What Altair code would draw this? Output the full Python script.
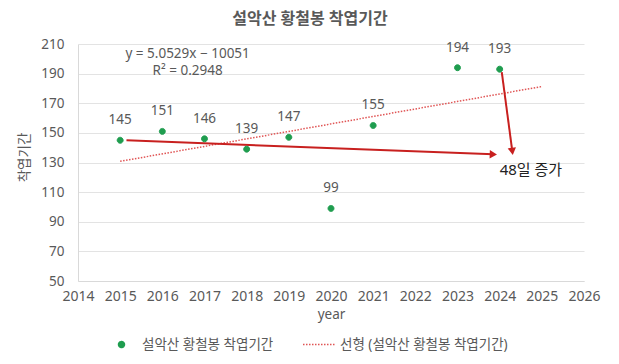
import altair as alt
import pandas as pd

# ---- data ----
years = [2015, 2016, 2017, 2018, 2019, 2020, 2021, 2023, 2024]
days = [145, 151, 146, 139, 147, 99, 155, 194, 193]
series_names = ["설악산 황철봉 착엽기간", "선형 (설악산 황철봉 착엽기간)"]
x_ticks = list(range(2014, 2027))
y_ticks = list(range(50, 211, 20))

eq_lines = ["y = 5.0529x − 10051", "R² = 0.2948"]
eq_x = [2016.6, 2016.6]
eq_y = [203.0, 191.5]

arrow_x = [2015.15, 2024.05]
arrow_y = [145.0, 191.0]
arrow_x2 = [2023.85, 2024.3]
arrow_y2 = [135.5, 137.5]
arrow_angle = [2, 352]
arrow_shape = ["triangle-right", "triangle-down"]

note_text = ["48일 증가"]
note_x = [2024.0]
note_y = [125.0]

FONT = "Noto Sans, Noto Sans CJK KR"
GRAY = "#595959"
GREEN = "#1f9d4f"
TREND = "#e05555"
ARROW = "#c8201f"
# small dot drawn inside a wide symbol box (unit coords scaled by sqrt(size)/2)
DOT = "M0.18,0A0.18,0.18,0,1,1,-0.18,0A0.18,0.18,0,1,1,0.18,0Z"
SYM_SIZE = 1089

pts = pd.DataFrame({"year": years, "days": days, "series": series_names[0]})
eq = pd.DataFrame({"year": eq_x, "days": eq_y, "t": eq_lines})
arrows = pd.DataFrame({"year": arrow_x, "days": arrow_y, "year2": arrow_x2, "days2": arrow_y2,
                       "angle": arrow_angle, "shape": arrow_shape})
note = pd.DataFrame({"year": note_x, "days": note_y, "t": note_text})

xscale = alt.Scale(domain=[2014, 2026], nice=False, zero=False)
yscale = alt.Scale(domain=[50, 210], nice=False, zero=False)

xaxis = alt.Axis(values=x_ticks, format="d", title="year", grid=False, ticks=False,
                 domainColor="#d9d9d9", labelPadding=8, titlePadding=4,
                 labelOverlap=False, labelFlush=False, labelFontSize=14)
yaxis = alt.Axis(values=y_ticks, title="착엽기간", grid=True, gridColor="#e3e3e3",
                 ticks=False, domainColor="#d9d9d9", labelPadding=14, labelOverlap=False,
                 labelFlush=False,
                 titleX=-54, titleY=113, titleAngle=270, titleBaseline="middle")

X = alt.X("year:Q", scale=xscale, axis=xaxis)
Y = alt.Y("days:Q", scale=yscale, axis=yaxis)

legend = alt.Legend(title=None, orient="none", direction="horizontal",
                    legendX=26, legendY=283, columnPadding=26, labelOffset=3,
                    symbolStrokeWidth=1.5, symbolSize=SYM_SIZE, labelFontSize=13.5,
                    labelColor=GRAY, labelFont=FONT, labelLimit=400)

col_scale = alt.Scale(domain=series_names, range=[GREEN, TREND])
dash_scale = alt.Scale(domain=series_names, range=[[1, 0], [1.5, 1.5]])
shape_scale = alt.Scale(domain=series_names, range=[DOT, "stroke"])

trend = (
    alt.Chart(pts)
    .transform_regression("year", "days", extent=[2015, 2025])
    .transform_calculate(series=f'"{series_names[1]}"')
    .mark_line(strokeWidth=1.5)
    .encode(x=X, y=Y,
            stroke=alt.Stroke("series:N", scale=col_scale, legend=legend),
            strokeDash=alt.StrokeDash("series:N", scale=dash_scale, legend=legend))
)

points = alt.Chart(pts).mark_point(filled=True, opacity=1, strokeWidth=1, size=SYM_SIZE).encode(
    x=X, y=Y,
    fill=alt.Fill("series:N", scale=col_scale, legend=legend),
    stroke=alt.Stroke("series:N", scale=col_scale, legend=legend),
    shape=alt.Shape("series:N", scale=shape_scale, legend=legend),
    strokeDash=alt.StrokeDash("series:N", scale=dash_scale, legend=legend),
)

labels = alt.Chart(pts).mark_text(dy=-20, fontSize=13.5, color=GRAY, font=FONT).encode(
    x=X, y=Y, text="days:Q"
)

rules = alt.Chart(arrows).mark_rule(color=ARROW, strokeWidth=2).encode(
    x=X, y=Y, x2=alt.X2("year2:Q"), y2=alt.Y2("days2:Q")
)

def head(shape_name):
    return (
        alt.Chart(arrows)
        .transform_filter(alt.datum.shape == shape_name)
        .transform_calculate(hx="datum.year2", hy="datum.days2")
        .mark_point(filled=True, color=ARROW, opacity=1, size=70, shape=shape_name)
        .encode(x=alt.X("hx:Q", scale=xscale, axis=xaxis),
                y=alt.Y("hy:Q", scale=yscale, axis=yaxis),
                angle=alt.Angle("angle:Q", scale=None))
    )

heads = [head(s) for s in arrow_shape]

eqtext = alt.Chart(eq).mark_text(fontSize=13.5, color=GRAY, font=FONT).encode(
    x=X, y=Y, text="t:N"
)
notetext = alt.Chart(note).mark_text(fontSize=15, color="#222222", font=FONT, align="left").encode(
    x=X, y=Y, text="t:N"
)

chart = (
    alt.layer(trend, rules, *heads, points, labels, eqtext, notetext)
    .properties(
        width=506, height=237,
        autosize=alt.AutoSizeParams(type="none"),
        padding={"left": 70, "top": 36, "right": 27, "bottom": 75},
        title=alt.TitleParams("설악산 황철봉 착엽기간", fontSize=16, color=GRAY, font=FONT,
                              fontWeight="bold", offset=10, dx=-21),
        background="white",
    )
    .configure_view(stroke=None)
    .configure_axis(labelFont=FONT, titleFont=FONT, labelFontSize=13.5, titleFontSize=13.5,
                    labelColor=GRAY, titleColor=GRAY, titleFontWeight="normal")
)

chart.save("out.html", embed_options={"renderer": "svg", "actions": False})
